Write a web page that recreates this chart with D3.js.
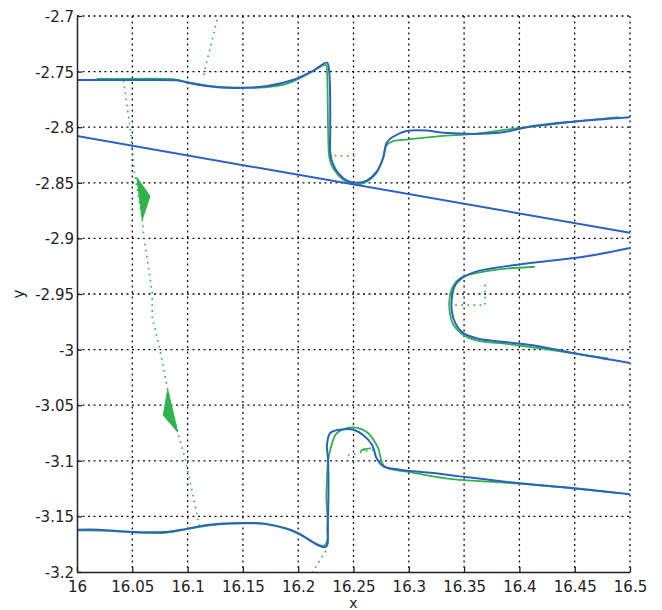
<!DOCTYPE html>
<html>
<head>
<meta charset="utf-8">
<script src="https://cdn.jsdelivr.net/npm/d3@7"></script>
<style>
  body { margin: 0; background: #fff; }
  svg { display: block; font-family: "DejaVu Sans", sans-serif; }
</style>
</head>
<body>
<div id="chart"></div>
<script>
// ticks
const xTicks = [16, 16.05, 16.1, 16.15, 16.2, 16.25, 16.3, 16.35, 16.4, 16.45, 16.5];
const yTicks = [-2.7, -2.75, -2.8, -2.85, -2.9, -2.95, -3, -3.05, -3.1, -3.15, -3.2];

// blue (solid) curves
const blueLine = [[16, -2.808], [16.5, -2.895]];
const blueUpper = [[16, -2.7575], [16.03, -2.7575], [16.06, -2.7575], [16.09, -2.7578], [16.096, -2.759],
  [16.117, -2.763], [16.141, -2.7648], [16.172, -2.763], [16.195, -2.7576], [16.213, -2.7495],
  [16.226, -2.742], [16.228, -2.75], [16.229, -2.80], [16.229, -2.823], [16.231, -2.832],
  [16.236, -2.841], [16.244, -2.848], [16.253, -2.850], [16.262, -2.848], [16.271, -2.840],
  [16.277, -2.827], [16.280, -2.814], [16.285, -2.809], [16.298, -2.8035], [16.316, -2.803],
  [16.331, -2.805], [16.382, -2.805], [16.412, -2.799], [16.448, -2.795], [16.5, -2.791]];
const blueHairpin = [[16.5, -2.9086], [16.458, -2.9165], [16.412, -2.922], [16.364, -2.929],
  [16.349, -2.935], [16.342, -2.942], [16.339, -2.953], [16.339, -2.966], [16.342, -2.976],
  [16.349, -2.985], [16.362, -2.990], [16.412, -2.996], [16.448, -3.003], [16.5, -3.012]];
const blueLower = [[16, -3.162], [16.02, -3.162], [16.05, -3.164], [16.08, -3.164], [16.1, -3.161],
  [16.12, -3.1575], [16.15, -3.156], [16.17, -3.1565], [16.19, -3.161], [16.2, -3.165],
  [16.225, -3.1775], [16.2265, -3.16], [16.227, -3.099], [16.226, -3.086], [16.229, -3.075],
  [16.238, -3.072], [16.250, -3.072], [16.259, -3.077], [16.267, -3.086], [16.271, -3.098],
  [16.277, -3.105], [16.292, -3.108], [16.322, -3.111], [16.346, -3.114], [16.398, -3.120],
  [16.448, -3.1245], [16.5, -3.130]];

// green (solid) curves
const greenUpper = [[16.018, -2.7565], [16.05, -2.7565], [16.087, -2.7568], [16.1, -2.7595],
  [16.12, -2.7628], [16.147, -2.7645], [16.17, -2.7642], [16.19, -2.7608], [16.21, -2.7515],
  [16.225, -2.744], [16.226, -2.75], [16.227, -2.80], [16.228, -2.826], [16.230, -2.834],
  [16.236, -2.843], [16.244, -2.8495], [16.253, -2.8515], [16.262, -2.849], [16.270, -2.842],
  [16.276, -2.830], [16.280, -2.816], [16.286, -2.8125], [16.30, -2.811], [16.328, -2.808],
  [16.36, -2.806], [16.39, -2.802], [16.42, -2.7985], [16.45, -2.795], [16.49, -2.791]];
const greenHairpin = [[16.414, -2.9255], [16.38, -2.928], [16.362, -2.931], [16.347, -2.9355],
  [16.340, -2.943], [16.337, -2.953], [16.337, -2.966], [16.340, -2.977], [16.348, -2.986],
  [16.36, -2.9915], [16.39, -2.995], [16.42, -2.999], [16.45, -3.0035], [16.48, -3.008]];
const greenLower = [[16, -3.1625], [16.03, -3.163], [16.06, -3.1648], [16.08, -3.1648], [16.1, -3.1615],
  [16.12, -3.158], [16.15, -3.1562], [16.17, -3.157], [16.19, -3.1615], [16.2, -3.1655],
  [16.224, -3.176], [16.2255, -3.13], [16.227, -3.10], [16.229, -3.09], [16.235, -3.075],
  [16.250, -3.070], [16.263, -3.075], [16.272, -3.088], [16.278, -3.105], [16.30, -3.110],
  [16.335, -3.116], [16.40, -3.1205], [16.45, -3.125], [16.49, -3.129]];

// green dotted trajectories
const greenDots1 = [[16.1266, -2.7036], [16.114, -2.755]];
const greenDots2 = [[16.042, -2.758], [16.048, -2.80], [16.052, -2.841], [16.059, -2.883],
  [16.060, -2.895], [16.068, -2.949], [16.068, -2.971], [16.075, -3.0], [16.082, -3.036],
  [16.091, -3.074], [16.098, -3.099], [16.111, -3.16]];
const greenDots3 = [[16.225, -3.181], [16.213, -3.2]];
const greenDots4 = [[16.233, -2.8255], [16.253, -2.826]];
const greenDots5 = [[16.342, -2.960], [16.369, -2.960], [16.369, -2.940]];
const greenDots6 = [[16.245, -3.095], [16.272, -3.089]];

// green filled arrow heads
const greenTri1 = [[16.054, -2.845], [16.066, -2.862], [16.059, -2.883]];
const greenTri2 = [[16.082, -3.036], [16.078, -3.059], [16.091, -3.074]];
const greenTri3 = [[16.256, -3.0915], [16.266, -3.0885], [16.258, -3.0895]];

const width = 662, height = 610;
const margin = {top: 16, right: 32, bottom: 38, left: 77};
const blue = "#2b62c2", green = "#2fb34c";

const svg = d3.select("#chart").append("svg")
  .attr("width", width).attr("height", height);

const x = d3.scaleLinear().domain([16, 16.5]).range([margin.left, width - margin.right]);
const y = d3.scaleLinear().domain([-2.7, -3.2]).range([margin.top, height - margin.bottom]);

// grid
const grid = svg.append("g").attr("stroke", "#111").attr("stroke-width", 1.3)
  .attr("stroke-dasharray", "2,3.5");
grid.selectAll(".gx").data(xTicks.slice(1)).enter().append("line")
  .attr("x1", d => x(d)).attr("x2", d => x(d))
  .attr("y1", y(-2.7)).attr("y2", y(-3.2));
grid.selectAll(".gy").data(yTicks.slice(0, -1)).enter().append("line")
  .attr("y1", d => y(d)).attr("y2", d => y(d))
  .attr("x1", x(16)).attr("x2", x(16.5));

svg.append("clipPath").attr("id", "clip").append("rect")
  .attr("x", x(16)).attr("y", y(-2.7))
  .attr("width", x(16.5) - x(16)).attr("height", y(-3.2) - y(-2.7));

const plot = svg.append("g").attr("clip-path", "url(#clip)");
const line = d3.line().x(d => x(d[0])).y(d => y(d[1])).curve(d3.curveCatmullRom.alpha(0.5));
const straight = d3.line().x(d => x(d[0])).y(d => y(d[1]));

// green solid
[greenUpper, greenHairpin, greenLower].forEach(s => {
  plot.append("path").attr("d", line(s))
    .attr("fill", "none").attr("stroke", green).attr("stroke-width", 1.8);
});

// green dotted
[greenDots1, greenDots2, greenDots3, greenDots4, greenDots5, greenDots6].forEach(s => {
  plot.append("path").attr("d", straight(s))
    .attr("fill", "none").attr("stroke", green).attr("stroke-width", 1.6)
    .attr("stroke-dasharray", "1.6,4.5");
});

// green arrow heads
[greenTri1, greenTri2, greenTri3].forEach(s => {
  plot.append("path").attr("d", straight(s) + "Z")
    .attr("fill", green).attr("stroke", green).attr("stroke-width", 1);
});

// blue
[blueLine, blueUpper, blueHairpin, blueLower].forEach((s, i) => {
  plot.append("path").attr("d", (i === 0 ? straight : line)(s))
    .attr("fill", "none").attr("stroke", blue).attr("stroke-width", 2);
});

// axes
const xAxis = svg.append("g").attr("transform", `translate(0,${y(-3.2)})`)
  .call(d3.axisBottom(x).tickValues(xTicks).tickFormat(d => String(d)).tickSizeInner(-5).tickSizeOuter(0));
const yAxis = svg.append("g").attr("transform", `translate(${x(16)},0)`)
  .call(d3.axisLeft(y).tickValues(yTicks).tickFormat(d => String(d)).tickSizeInner(-5).tickSizeOuter(0));

[xAxis, yAxis].forEach(a => {
  a.select(".domain").attr("stroke", "#222").attr("stroke-width", 1.5);
  a.selectAll(".tick line").attr("stroke", "#222").attr("stroke-width", 1.3);
  a.selectAll("text").attr("font-family", "DejaVu Sans, sans-serif")
    .attr("font-size", 15).attr("fill", "#222");
});
xAxis.selectAll("text").attr("y", 20).attr("dy", null);
yAxis.selectAll("text").attr("x", -3).attr("dy", "0.36em");

svg.append("text").attr("x", (x(16) + x(16.5)) / 2).attr("y", 608)
  .attr("text-anchor", "middle").attr("font-size", 14).attr("fill", "#222").text("x");
svg.append("text")
  .attr("transform", `translate(24,${(y(-2.7) + y(-3.2)) / 2}) rotate(-90)`)
  .attr("text-anchor", "middle").attr("font-size", 15).attr("fill", "#222").text("y");
</script>
</body>
</html>
